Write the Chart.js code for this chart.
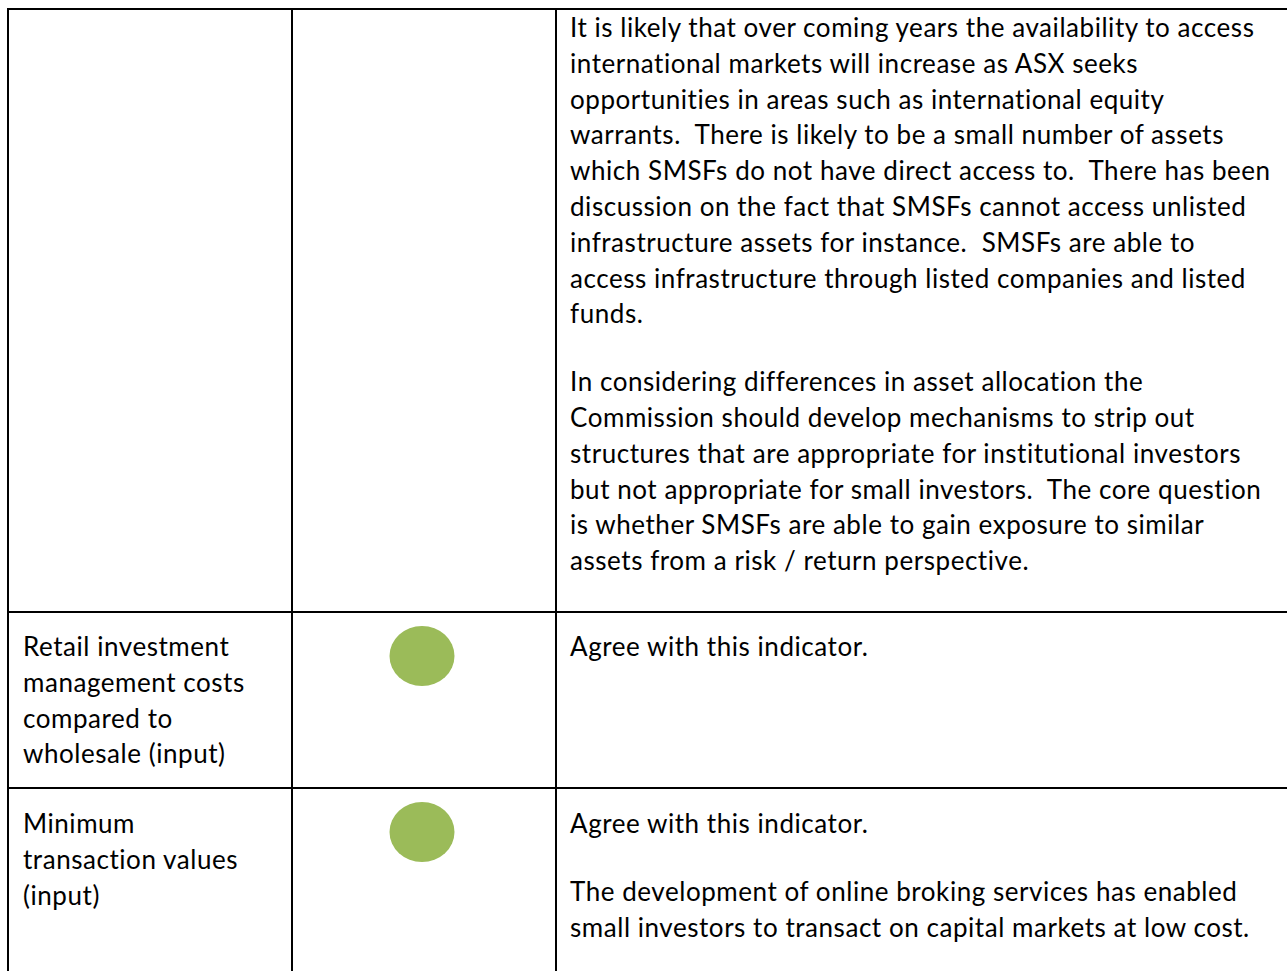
<!DOCTYPE html>
<html lang="en">
<head>
<meta charset="UTF-8">
<title>SMSF indicators</title>
<script src="https://cdn.jsdelivr.net/npm/chart.js"></script>
<style>
    html, body { margin: 0; padding: 0; background: #fff; overflow: hidden; }
    body { width: 1287px; height: 971px; position: relative; color: #000;
           font-family: Lato, "Open Sans", sans-serif; font-size: 26px; letter-spacing: 0.55px; }
    .vline { position: absolute; width: 2px; background: #000; }
    .hline { position: absolute; height: 2px; background: #000; }
    .cell { position: absolute; white-space: pre; line-height: 35.8px; }
    .cell p { margin: 0 0 32px 0; }
    .rating { position: absolute; }
</style>
</head>
<body>
<div id="table"></div>

<script>
    // indicator names (first row continues from the previous page, so no name)
    const indicators = [
        '',
        'Retail investment management costs compared to wholesale (input)',
        'Minimum transaction values (input)'
    ];
    const indicatorLines = [
        [],
        ['Retail investment', 'management costs', 'compared to', 'wholesale (input)'],
        ['Minimum', 'transaction values', '(input)']
    ];
    const ratings = [null, 'green', 'green'];
    const ratingColours = { green: '#9BBB59', amber: '#F79646', red: '#C0504D' };

    // comments, one list of paragraphs per row, one list of lines per paragraph
    const comments = [
        [
            ['It is likely that over coming years the availability to access',
             'international markets will increase as ASX seeks',
             'opportunities in areas such as international equity',
             'warrants.  There is likely to be a small number of assets',
             'which SMSFs do not have direct access to.  There has been',
             'discussion on the fact that SMSFs cannot access unlisted',
             'infrastructure assets for instance.  SMSFs are able to',
             'access infrastructure through listed companies and listed',
             'funds.'],
            ['In considering differences in asset allocation the',
             'Commission should develop mechanisms to strip out',
             'structures that are appropriate for institutional investors',
             'but not appropriate for small investors.  The core question',
             'is whether SMSFs are able to gain exposure to similar',
             'assets from a risk / return perspective.']
        ],
        [
            ['Agree with this indicator.']
        ],
        [
            ['Agree with this indicator.'],
            ['The development of online broking services has enabled',
             'small investors to transact on capital markets at low cost.']
        ]
    ];

    // table geometry
    const colLines = [7, 291, 555];
    const rowLines = [8, 611, 787];
    const rowPadTop = [2, 18, 19];
    const textLeft = [23, null, 570];

    const table = document.getElementById('table');

    function addDiv(cls, style, html) {
        const d = document.createElement('div');
        d.className = cls;
        Object.assign(d.style, style);
        if (html !== undefined) d.innerHTML = html;
        table.appendChild(d);
        return d;
    }

    colLines.forEach(x => addDiv('vline', { left: x + 'px', top: rowLines[0] + 'px', height: '1000px' }));
    rowLines.forEach(y => addDiv('hline', { left: colLines[0] + 'px', top: y + 'px', width: '1300px' }));

    function esc(s) {
        return s.replace(/&/g, '&amp;').replace(/</g, '&lt;');
    }

    // a green ellipse used as the point style
    function ellipseStyle(colour) {
        const c = document.createElement('canvas');
        c.width = 66;
        c.height = 60;
        const g = c.getContext('2d');
        g.fillStyle = colour;
        g.beginPath();
        g.ellipse(33, 30, 32.5, 30, 0, 0, Math.PI * 2);
        g.fill();
        return c;
    }

    indicators.forEach((name, i) => {
        const top = rowLines[i] + rowPadTop[i];

        addDiv('cell', { left: textLeft[0] + 'px', top: top + 'px' },
            '<p>' + indicatorLines[i].map(esc).join('\n') + '</p>');

        addDiv('cell', { left: textLeft[2] + 'px', top: top + 'px' },
            comments[i].map(p => '<p>' + p.map(esc).join('\n') + '</p>').join(''));

        if (!ratings[i]) return;

        const holder = addDiv('rating', { left: colLines[1] + 'px', top: (rowLines[i] + 2) + 'px' });
        const canvas = document.createElement('canvas');
        canvas.width = 262;
        canvas.height = 86;
        holder.appendChild(canvas);

        new Chart(canvas.getContext('2d'), {
            type: 'scatter',
            data: {
                datasets: [{
                    label: name,
                    data: [{ x: 'Rating', y: name }],
                    pointStyle: ellipseStyle(ratingColours[ratings[i]]),
                    pointRadius: 31
                }]
            },
            options: {
                responsive: false,
                animation: false,
                layout: { padding: 0 },
                plugins: {
                    legend: { display: false },
                    tooltip: { enabled: false }
                },
                scales: {
                    x: { type: 'category', labels: ['Rating'], offset: true, display: false },
                    y: { type: 'category', labels: [name], offset: true, display: false }
                }
            }
        });
    });
</script>
</body>
</html>
